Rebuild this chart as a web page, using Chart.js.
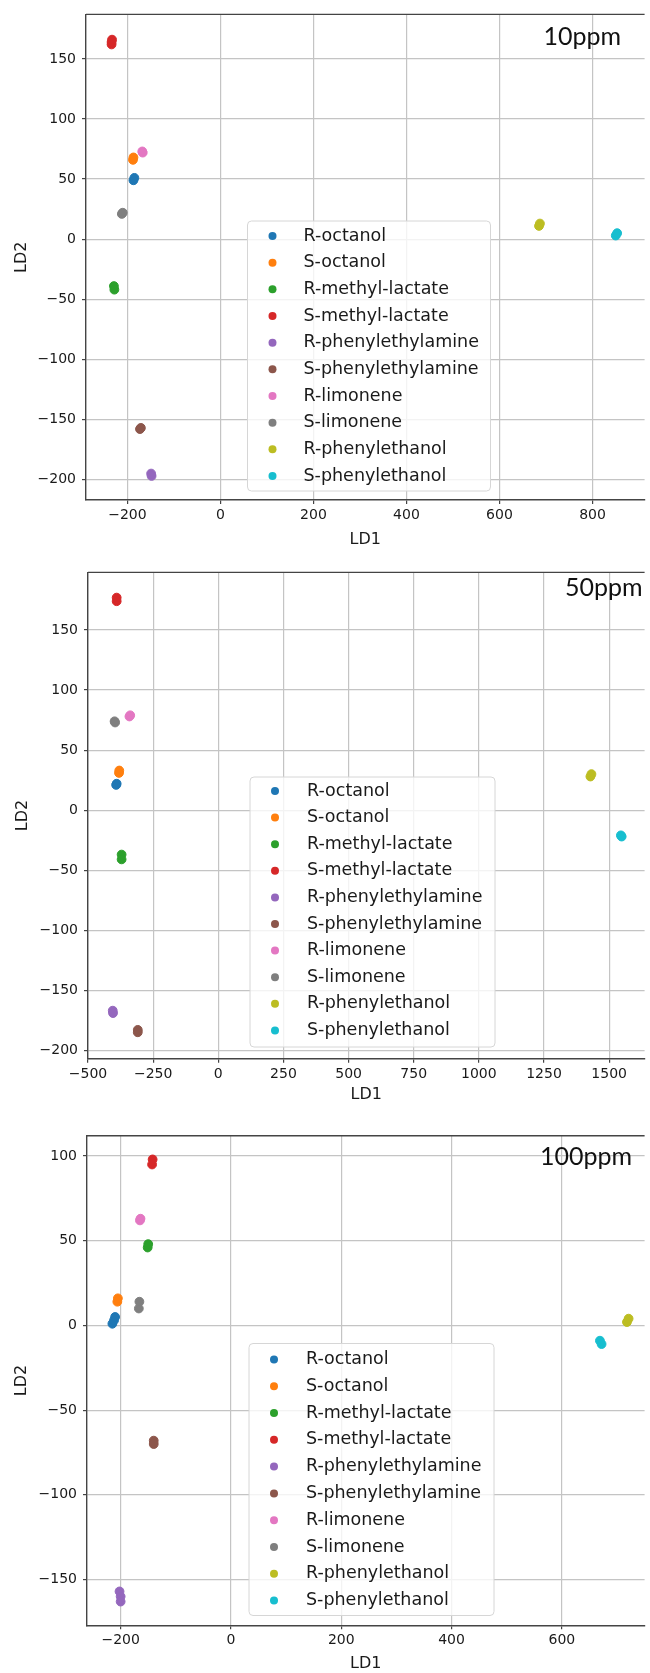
<!DOCTYPE html>
<html>
<head>
<meta charset="utf-8">
<script src="https://cdn.jsdelivr.net/npm/chart.js@4.4.1/dist/chart.umd.min.js"></script>
<style>
  html, body { margin: 0; padding: 0; background: #fff; }
  body { width: 650px; height: 1673px; position: relative; overflow: hidden; }
  canvas { position: absolute; left: 0; display: block; }
</style>
</head>
<body>
<canvas id="c10" width="650" height="558" style="top:0"></canvas>
<canvas id="c50" width="650" height="557" style="top:558px"></canvas>
<canvas id="c100" width="650" height="558" style="top:1115px"></canvas>
<script>
// compounds (legend order)
const names = ["R-octanol", "S-octanol", "R-methyl-lactate", "S-methyl-lactate",
  "R-phenylethylamine", "S-phenylethylamine", "R-limonene", "S-limonene",
  "R-phenylethanol", "S-phenylethanol"];
const colors = ["#1f77b4", "#ff7f0e", "#2ca02c", "#d62728", "#9467bd",
  "#8c564b", "#e377c2", "#7f7f7f", "#bcbd22", "#17becf"];

// 10ppm replicate points
const ld1_10 = [[-187, -185], [-188, -187], [-229, -228], [-234, -234, -233],
  [-149, -148], [-173, -171], [-168, -167], [-212, -210], [685, 687], [850, 853]];
const ld2_10 = [[49, 51], [66, 68], [-39, -42], [162, 164, 166],
  [-195, -197], [-158, -157], [73, 72], [21, 22], [11, 13], [3, 5]];
const ticks10x = [-200, 0, 200, 400, 600, 800];
const ticks10y = [-200, -150, -100, -50, 0, 50, 100, 150];
const range10x = [-289, 912];
const range10y = [-217, 187];

// 50ppm replicate points
const ld1_50 = [[-392, -390], [-381, -380], [-371, -371], [-390, -390],
  [-405, -404], [-309, -309], [-341, -338], [-398, -396], [1428, 1432], [1545, 1548]];
const ld2_50 = [[21, 22], [31, 33], [-37, -41], [174, 177],
  [-167, -169], [-183, -185], [78, 79], [74, 73], [28, 30], [-21, -22]];
const ticks50x = [-500, -250, 0, 250, 500, 750, 1000, 1250, 1500];
const ticks50y = [-200, -150, -100, -50, 0, 50, 100, 150];
const range50x = [-500, 1636];
const range50y = [-207, 198];

// 100ppm replicate points
const ld1_100 = [[-215, -212, -210], [-206, -205], [-151, -150], [-143, -142],
  [-202, -200, -200], [-140, -140], [-165, -164], [-167, -166], [718, 721], [669, 672]];
const ld2_100 = [[1, 3, 5], [14, 16], [46, 48], [95, 98],
  [-157, -160, -163], [-68, -70], [62, 63], [10, 14], [2, 4], [-9, -11]];
const ticks100x = [-200, 0, 200, 400, 600];
const ticks100y = [-150, -100, -50, 0, 50, 100];
const range100x = [-261, 750];
const range100y = [-177, 112];

const tickFont = { family: "DejaVu Sans", size: 14 };
const labelFont = { family: "DejaVu Sans", size: 16 };
const minus = v => String(v).replace("-", "\u2212");

function makePanel(id, p) {
  const datasets = names.map((n, i) => ({
    label: n,
    data: p.xs[i].map((x, k) => ({ x: x, y: p.ys[i][k] })),
    backgroundColor: colors[i],
    borderColor: colors[i],
    borderWidth: 1,
    pointRadius: 4.4,
    pointHoverRadius: 4.4
  }));

  const overlay = {
    id: "overlay",
    afterDraw(chart) {
      const ctx = chart.ctx, a = chart.chartArea, L = p.legend;
      ctx.save();
      // top spine
      ctx.strokeStyle = "#444";
      ctx.lineWidth = 1.4;
      ctx.beginPath();
      ctx.moveTo(a.left, a.top);
      ctx.lineTo(a.right, a.top);
      ctx.stroke();
      // legend box
      ctx.beginPath();
      ctx.roundRect(L.x, L.y, L.w, L.h, 4);
      ctx.fillStyle = "rgba(255,255,255,0.8)";
      ctx.fill();
      ctx.strokeStyle = "#d6d6d6";
      ctx.lineWidth = 1;
      ctx.stroke();
      ctx.font = "17.5px 'DejaVu Sans'";
      ctx.textBaseline = "middle";
      ctx.textAlign = "left";
      chart.data.datasets.forEach((d, i) => {
        const y = L.row0 + i * L.step;
        ctx.beginPath();
        ctx.arc(L.mx, y, 4, 0, Math.PI * 2);
        ctx.fillStyle = d.backgroundColor;
        ctx.fill();
        ctx.fillStyle = "#1a1a1a";
        ctx.fillText(d.label, L.tx, y);
      });
      // concentration label
      ctx.font = "25px Lato";
      ctx.textBaseline = "alphabetic";
      ctx.fillStyle = "#111";
      ctx.fillText(p.ppm.text, p.ppm.x, p.ppm.y);
      ctx.restore();
    }
  };

  new Chart(document.getElementById(id), {
    type: "scatter",
    data: { datasets },
    options: {
      responsive: false,
      animation: false,
      devicePixelRatio: 1,
      events: [],
      layout: { padding: { top: p.padTop, right: 0, bottom: 0, left: 0 } },
      plugins: { legend: { display: false }, tooltip: { enabled: false } },
      scales: {
        x: {
          type: "linear",
          min: p.rx[0], max: p.rx[1],
          afterBuildTicks: s => { s.ticks = p.tx.map(v => ({ value: v })); },
          afterFit: s => { s.height = p.xH; },
          ticks: { font: tickFont, color: "#1a1a1a", padding: 3, maxRotation: 0, autoSkip: false, callback: minus },
          grid: { color: "#c4c4c4", lineWidth: 1.2, drawTicks: true, tickLength: 4, tickColor: "#444", tickWidth: 1.2 },
          border: { display: true, color: "#444", width: 1.4 },
          title: { display: true, text: "LD1", font: labelFont, color: "#1a1a1a", padding: { top: 0, bottom: p.xTitlePB } }
        },
        y: {
          type: "linear",
          min: p.ry[0], max: p.ry[1],
          afterBuildTicks: s => { s.ticks = p.ty.map(v => ({ value: v })); },
          afterFit: s => { s.width = p.yW; },
          ticks: { font: tickFont, color: "#1a1a1a", padding: 6, autoSkip: false, callback: minus },
          grid: { color: "#c4c4c4", lineWidth: 1.2, drawTicks: true, tickLength: 4, tickColor: "#444", tickWidth: 1.2 },
          border: { display: true, color: "#444", width: 1.4 },
          title: { display: true, text: "LD2", font: labelFont, color: "#1a1a1a", padding: { top: p.yTitlePT, bottom: 0 } }
        }
      }
    },
    plugins: [overlay]
  });
}

makePanel("c10", {
  xs: ld1_10, ys: ld2_10, tx: ticks10x, ty: ticks10y, rx: range10x, ry: range10y,
  padTop: 14, yW: 86, xH: 58, xTitlePB: 8.4, yTitlePT: 12.4,
  legend: { x: 247.5, y: 221, w: 243, h: 270, row0: 236, step: 26.67, mx: 272.5, tx: 303.5 },
  ppm: { text: "10ppm", x: 543.5, y: 45 }
});
makePanel("c50", {
  xs: ld1_50, ys: ld2_50, tx: ticks50x, ty: ticks50y, rx: range50x, ry: range50y,
  padTop: 12.7, yW: 88, xH: 56.3, xTitlePB: 10.6, yTitlePT: 13.7,
  legend: { x: 250, y: 219, w: 245, h: 270, row0: 233, step: 26.6, mx: 275, tx: 307 },
  ppm: { text: "50ppm", x: 565, y: 38 }
});
makePanel("c100", {
  xs: ld1_100, ys: ld2_100, tx: ticks100x, ty: ticks100y, rx: range100x, ry: range100y,
  padTop: 20.7, yW: 87, xH: 47.7, xTitlePB: 0, yTitlePT: 12.2,
  legend: { x: 249, y: 228.5, w: 245, h: 272, row0: 244.4, step: 26.8, mx: 274, tx: 306 },
  ppm: { text: "100ppm", x: 540, y: 49.5 }
});
</script>
</body>
</html>
